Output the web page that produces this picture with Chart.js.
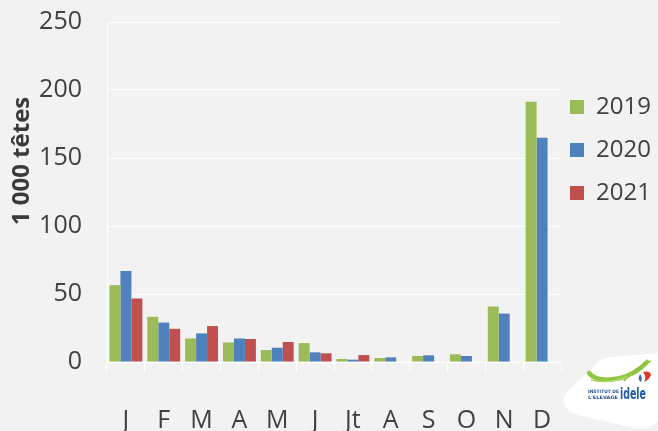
<!DOCTYPE html>
<html>
<head>
<meta charset="utf-8">
<script src="https://cdn.jsdelivr.net/npm/chart.js@4.4.0/dist/chart.umd.min.js"></script>
<style>
  html,body{margin:0;padding:0;background:#f2f2f2;}
  #wrap{position:relative;width:658px;height:431px;overflow:hidden;}
  canvas{position:absolute;left:0;top:0;}
  #logo{position:absolute;left:558px;top:345px;width:100px;height:86px;}
</style>
</head>
<body>
<div id="wrap">
<canvas id="c" width="658" height="431"></canvas>
<svg id="logo" viewBox="558 345 100 86" xmlns="http://www.w3.org/2000/svg">
  <path d="M565 405 Q560 399 569 390 L594 366 Q600 358 612 357 L658 353 L658 421 Q650 430 635 428 L577 415 Q566 411 565 405 Z" fill="#ffffff"/>
  <path d="M589 373 Q598 384 624 377 Q638 372 647 362" stroke="#8dc63f" stroke-width="4.5" fill="none" stroke-linecap="round"/>
  <path d="M591 380 Q612 385 632 374" stroke="#b5d56a" stroke-width="1.5" fill="none"/>
  <path d="M624 381 Q634 368 651 361" stroke="#8dc63f" stroke-width="1.5" fill="none"/>
  <path d="M643 372 Q650 370 651 375 Q649 380 644 382 Q647 377 643 372 Z" fill="#e3342f"/>
  <path d="M640 374 Q643 378 641 382 Q637 380 640 374 Z" fill="#3a6fb7"/>
  <text x="588" y="393" font-family="DejaVu Sans Condensed, DejaVu Sans" font-size="4.6" font-weight="bold" fill="#1f4e96" textLength="31" lengthAdjust="spacingAndGlyphs">INSTITUT DE</text>
  <text x="588" y="399" font-family="DejaVu Sans Condensed, DejaVu Sans" font-size="4.6" font-weight="bold" fill="#1f4e96" textLength="30" lengthAdjust="spacingAndGlyphs">L'ELEVAGE</text>
  <text x="620" y="399" font-family="DejaVu Sans" font-size="15" font-weight="bold" fill="#1f5aa8" textLength="26" lengthAdjust="spacingAndGlyphs">idele</text>
</svg>
</div>
<script>
const categories = ["J","F","M","A","M","J","Jt","A","S","O","N","D"];
const seriesNames = ["2019","2020","2021"];
const values2019 = [56.5, 33.2, 17.3, 14.4, 8.8, 13.9, 2.2, 2.9, 4.4, 5.6, 40.8, 191.3];
const values2020 = [67.0, 29.0, 21.0, 17.3, 10.5, 7.1, 1.7, 3.4, 4.9, 4.4, 35.6, 164.9];
const values2021 = [46.7, 24.4, 26.4, 16.9, 14.7, 6.4, 5.1, null, null, null, null, null];
const yTicks = [0, 50, 100, 150, 200, 250];
const yTitle = "1 000 têtes";

const FONT = "'Open Sans', 'DejaVu Sans', sans-serif";
const TEXT = "#404040";

const yTitlePlugin = {
  id: "yTitlePlugin",
  afterDraw(chart) {
    const ctx = chart.ctx;
    ctx.save();
    ctx.translate(22, 161);
    ctx.rotate(-Math.PI / 2);
    ctx.font = "bold 24px " + FONT;
    ctx.fillStyle = "#3a3a3a";
    ctx.textAlign = "center";
    ctx.textBaseline = "middle";
    ctx.fillText(yTitle, 0, 0);
    ctx.restore();
  }
};

const legendShift = {
  id: "legendShift",
  beforeDraw(chart) {
    const lg = chart.legend;
    if (!lg) return;
    lg.left = 551;
    lg.right = 658;
    lg.top = 76;
    lg.bottom = 431;
  }
};

new Chart(document.getElementById("c"), {
  type: "bar",
  data: {
    labels: categories,
    datasets: [
      { label: seriesNames[0], data: values2019, backgroundColor: "#9bbb59" },
      { label: seriesNames[1], data: values2020, backgroundColor: "#4f81bd" },
      { label: seriesNames[2], data: values2021, backgroundColor: "#c0504d" }
    ]
  },
  options: {
    responsive: false,
    animation: false,
    devicePixelRatio: 1,
    layout: { padding: { top: 22, right: 0, bottom: 0, left: 0 } },
    datasets: { bar: { barPercentage: 1, categoryPercentage: 0.87, borderWidth: 0 } },
    plugins: {
      tooltip: { enabled: false },
      legend: {
        position: "right",
        align: "start",
        maxWidth: 97,
        labels: {
          boxWidth: 14,
          boxHeight: 14,
          padding: 19,
          color: TEXT,
          font: { family: FONT, size: 24 }
        }
      }
    },
    scales: {
      x: {
        offset: true,
        grid: { display: true, drawOnChartArea: false, drawTicks: true, tickLength: 10, color: "#ffffff", lineWidth: 1 },
        border: { display: true, color: "#ffffff", width: 1 },
        ticks: { color: TEXT, font: { family: FONT, size: 25 }, padding: 34, maxRotation: 0, autoSkip: false },
        afterFit(scale) { scale.height = 69; scale.paddingLeft = 0; scale.paddingRight = 0; }
      },
      y: {
        min: yTicks[0],
        max: yTicks[yTicks.length - 1],
        afterBuildTicks(scale) { scale.ticks = yTicks.map(v => ({ value: v })); },
        grid: { color: "#ffffff", lineWidth: 1, drawTicks: false },
        border: { display: true, color: "#ffffff", width: 1 },
        ticks: { color: TEXT, font: { family: FONT, size: 25 }, padding: 25 },
        afterFit(scale) { scale.width = 107; scale.paddingTop = 0; scale.paddingBottom = 0; }
      }
    }
  },
  plugins: [yTitlePlugin, legendShift]
});
</script>
</body>
</html>
